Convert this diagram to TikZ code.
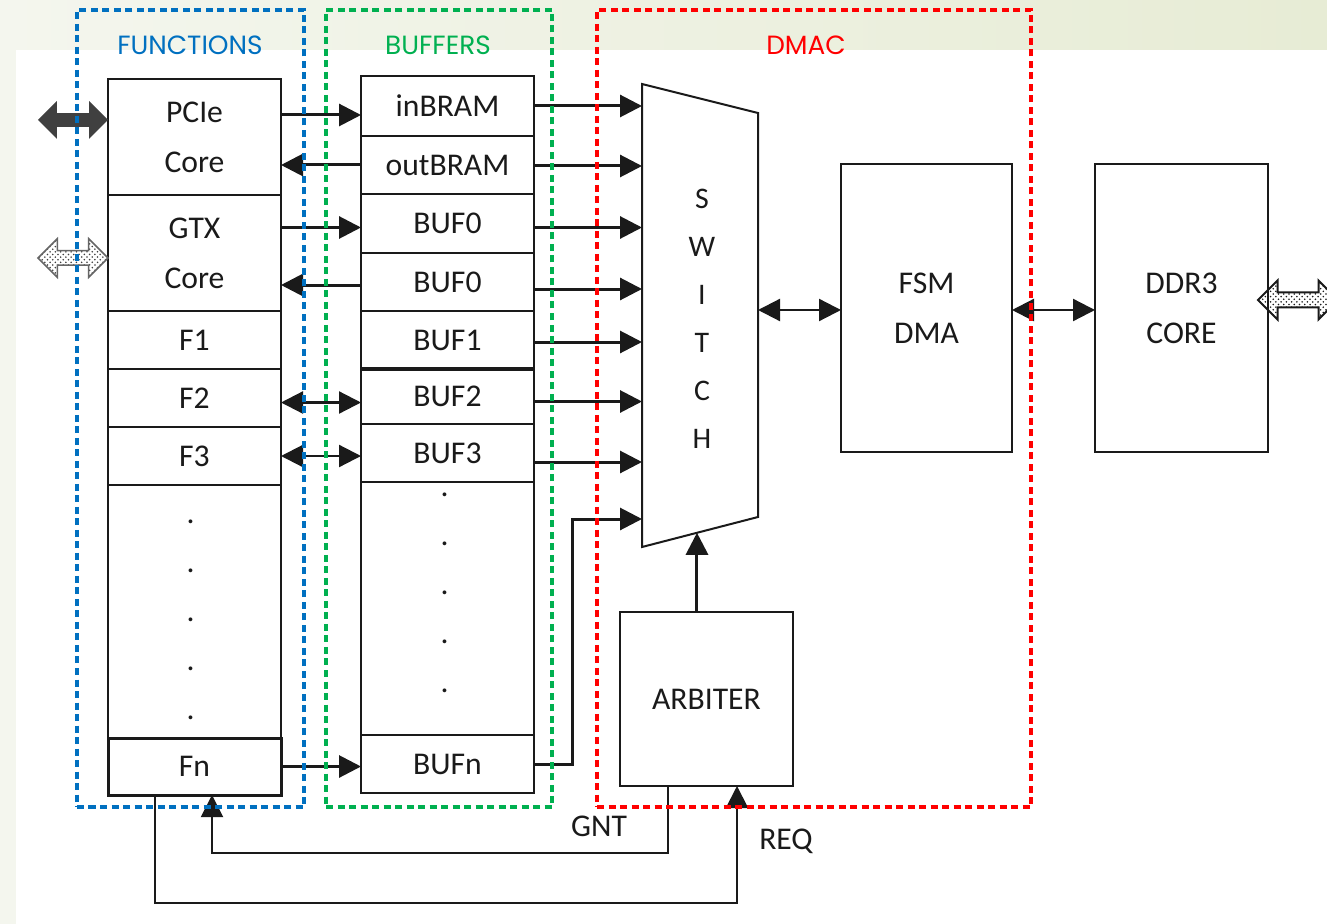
\documentclass[tikz,border=0pt]{standalone}
\usepackage{fontspec}
\setmainfont{Carlito}
\newfontfamily\titlefont{Poppins}
\usetikzlibrary{arrows.meta,positioning,calc,shapes.arrows,patterns}
\definecolor{ink}{HTML}{1A1A1A}
\definecolor{fncol}{HTML}{0070C0}
\definecolor{bufcol}{HTML}{00B050}
\definecolor{dmacol}{HTML}{FF0000}
\definecolor{paper}{HTML}{F4F6EE}
\definecolor{paperr}{HTML}{E7ECD5}

\begin{document}
\begin{tikzpicture}[x=.2mm,y=-.2mm,
  cell/.style={draw=ink,line width=.45mm,minimum width=34.6mm,outer sep=0,inner sep=0,
    align=center,font=\fontsize{18}{28.5}\selectfont,text=ink},
  blk/.style={cell,minimum height=57.6mm},
  grp/.style={draw,dashed,dash pattern=on 1.4mm off .9mm,line width=.65mm,
    inner sep=0,outer sep=0,minimum height=159.4mm},
  grplbl/.style={font=\titlefont\fontsize{15}{15}\selectfont},
  bus/.style={-{Triangle[length=4.4mm,width=4.4mm]},line width=.6mm,draw=ink},
  link/.style={{Triangle[length=4.4mm,width=4.4mm]}-{Triangle[length=4.4mm,width=4.4mm]},
    line width=.45mm,draw=ink},
  wire/.style={line width=.4mm,draw=ink},
  ext/.style={double arrow,minimum height=14mm,inner xsep=0,inner ysep=1.3mm,
    double arrow head extend=2.4mm},
  dotmark/.style={inner sep=0,font=\fontsize{18}{18}\selectfont,text=ink},
  sig/.style={font=\fontsize{18}{18}\selectfont,text=ink}]

% background
\fill[left color=paper,right color=paperr] (0,0) rectangle (1327,924);
\fill[white] (16,50) rectangle (1327,924);
\useasboundingbox (0,0) rectangle (1327,924);

% ============ FUNCTIONS column ============
\node[cell,minimum height=23.2mm] (pcie) at (194.5,137) {PCIe\\Core};
\node[cell,minimum height=23.2mm,below=0pt of pcie] (gtx) {GTX\\Core};
\node[cell,minimum height=11.6mm,below=0pt of gtx] (f1) {F1};
\node[cell,minimum height=11.6mm,below=0pt of f1] (f2) {F2};
\node[cell,minimum height=11.6mm,below=0pt of f2] (f3) {F3};
\node[cell,minimum height=50.6mm,below=0pt of f3] (fdots) {};
\node[cell,minimum height=11.4mm,below=0pt of fdots,line width=.6mm] (fn) {Fn};
\foreach \i in {0,...,4}
  \node[dotmark] (fd\i) at ($(fdots.north)+(-4,{37+49*\i})$) {.};
% outside links
\node[ext,fill=black!75] (pcieio) at ($(pcie.west)+(-35,-17)$) {};
\node[ext,draw=black!60,line width=.3mm,pattern=crosshatch dots,pattern color=black!75] (gtxio)
  at ($(gtx.west)+(-35,5)$) {};

% ============ BUFFERS column ============
\node[cell,minimum height=12mm] (inbram) at (447.5,106) {inBRAM};
\node[cell,minimum height=11.6mm,below=0pt of inbram] (outbram) {outBRAM};
\node[cell,minimum height=11.8mm,below=0pt of outbram] (buf0a) {BUF0};
\node[cell,minimum height=11.6mm,below=0pt of buf0a] (buf0b) {BUF0};
\node[cell,minimum height=11.6mm,below=0pt of buf0b] (buf1) {BUF1};
\node[cell,minimum height=11mm,below=0pt of buf1] (buf2) {BUF2};
\node[cell,minimum height=11.6mm,below=0pt of buf2] (buf3) {BUF3};
\node[cell,minimum height=50.6mm,below=0pt of buf3] (bdots) {};
\node[cell,minimum height=11.6mm,below=0pt of bdots] (bufn) {BUFn};
\foreach \i in {0,...,4}
  \node[dotmark] (bd\i) at ($(bdots.north)+(-3,{13+49*\i})$) {.};
\draw[line width=.7mm,draw=ink] (buf1.south west) -- (buf1.south east);

% function <-> buffer
\draw[bus] ($(inbram.west -| pcie.east)+(0,9)$) -- ($(inbram.west)+(0,9)$);
\draw[bus] (outbram.west) -- (outbram.west -| pcie.east);
\draw[bus] ($(buf0a.west -| gtx.east)+(0,4)$) -- ($(buf0a.west)+(0,4)$);
\draw[bus] ($(buf0b.west)+(0,3)$) -- ($(buf0b.west -| gtx.east)+(0,3)$);
\draw[link] ($(buf2.west -| f2.east)+(0,6)$) -- ($(buf2.west)+(0,6)$);
\draw[link] ($(buf3.west -| f3.east)+(0,3)$) -- ($(buf3.west)+(0,3)$);
\draw[bus] (fn.east) -- (fn.east -| bufn.west);

% ============ DMAC ============
\node[minimum width=23.2mm,minimum height=92.6mm,inner sep=0,outer sep=0] (sw) at (700,315.5) {};
\coordinate (swne) at ($(sw.north east)+(0,29)$);
\coordinate (swse) at ($(sw.south east)+(0,-30)$);
\draw[wire,fill=white] (sw.north west) -- (swne) -- (swse) -- (sw.south west) -- cycle;
\node[align=center,font=\fontsize{17}{27.3}\selectfont,text=ink] (swtxt) at (702,319)
  {S\\W\\I\\T\\C\\H};
\node[blk,minimum width=34.2mm] (fsm) at (926.5,308) {FSM\\DMA};
\node[blk] (ddr) at (1181.5,308) {DDR3\\CORE};
\node[cell,minimum height=34.8mm] (arb) at (706.5,699) {ARBITER};
\node[ext,minimum height=16mm,draw=ink,line width=.4mm,pattern=crosshatch dots,
  pattern color=ink] (ddrio) at ($(ddr.east)+(30,-8)$) {};

% buffers -> switch
\foreach \b/\d in {inbram/0,outbram/1,buf0a/4,buf0b/7,buf1/2,buf2/5,buf3/9}
  \draw[bus] ($(\b.east)+(0,\d)$) -- ($(\b.east -| sw.west)+(0,\d)$);
\draw[bus] (bufn.east) -- ++(38,0) |- ($(sw.south west)+(0,-28)$);

\coordinate (swin) at ($(sw.south west)!.474!(swse)$);
\draw[bus] (arb.north -| swin) -- (swin);
\draw[link] ($(fsm.west -| sw.east)+(0,2)$) -- ($(fsm.west)+(0,2)$);
\draw[link] ($(fsm.east)+(0,2)$) -- ($(ddr.west)+(0,2)$);

% grant / request
\coordinate (gnt) at ($(arb.south west)+(48,0)$);
\coordinate (req) at ($(arb.south west)+(117,0)$);
\draw[wire,-{Triangle[length=4.4mm,width=4.4mm]}] (gnt) -- ++(0,67) -| ($(fn.south west)+(104,0)$);
\draw[wire,-{Triangle[length=4.4mm,width=4.4mm]}] ($(fn.south west)+(47,0)$) -- ++(0,108) -| (req);
\node[sig] (gntlbl) at (599,826) {GNT};
\node[sig] (reqlbl) at (786,841) {REQ};

% ============ groups ============
\node[grp,draw=fncol,minimum width=45.4mm] (fgrp) at (190.5,408.5) {};
\node[grp,draw=bufcol,minimum width=45.2mm] (bgrp) at (439,408.5) {};
\node[grp,draw=dmacol,minimum width=86.8mm] (dgrp) at (814,408.5) {};
\node[grplbl,text=fncol] (fttl) at (190,45) {FUNCTIONS};
\node[grplbl,text=bufcol] (bttl) at (438,45) {BUFFERS};
\node[grplbl,text=dmacol] (dttl) at (806,45) {DMAC};

\end{tikzpicture}
\end{document}
